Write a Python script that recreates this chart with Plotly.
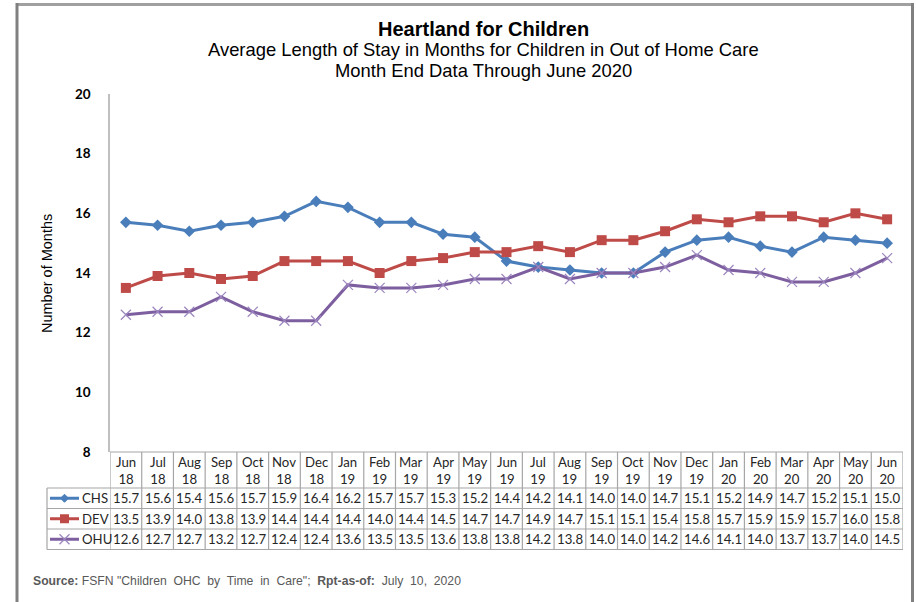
import plotly.graph_objects as go

# ---------------- data ----------------
months = ["Jun 18", "Jul 18", "Aug 18", "Sep 18", "Oct 18", "Nov 18", "Dec 18",
          "Jan 19", "Feb 19", "Mar 19", "Apr 19", "May 19", "Jun 19", "Jul 19",
          "Aug 19", "Sep 19", "Oct 19", "Nov 19", "Dec 19", "Jan 20", "Feb 20",
          "Mar 20", "Apr 20", "May 20", "Jun 20"]
chs = [15.7, 15.6, 15.4, 15.6, 15.7, 15.9, 16.4, 16.2, 15.7, 15.7, 15.3, 15.2, 14.4,
       14.2, 14.1, 14.0, 14.0, 14.7, 15.1, 15.2, 14.9, 14.7, 15.2, 15.1, 15.0]
dev = [13.5, 13.9, 14.0, 13.8, 13.9, 14.4, 14.4, 14.4, 14.0, 14.4, 14.5, 14.7, 14.7,
       14.9, 14.7, 15.1, 15.1, 15.4, 15.8, 15.7, 15.9, 15.9, 15.7, 16.0, 15.8]
ohu = [12.6, 12.7, 12.7, 13.2, 12.7, 12.4, 12.4, 13.6, 13.5, 13.5, 13.6, 13.8, 13.8,
       14.2, 13.8, 14.0, 14.0, 14.2, 14.6, 14.1, 14.0, 13.7, 13.7, 14.0, 14.5]
series_names = ["CHS", "DEV", "OHU"]
y_ticks = [8, 10, 12, 14, 16, 18, 20]

# ---------------- styling / layout ----------------
W_FIG, H_FIG = 916, 602
L, R, T, B = 110, 903, 94, 452
PW, PH = R - L, B - T


def fx(px):
    return (px - L) / PW


def fy(py):
    return (B - py) / PH


colors = {"CHS": "#4A7EBB", "DEV": "#BE4B48", "OHU": "#7D5FA0"}
table_font = dict(family="Lato, Carlito, Calibri, sans-serif", size=13.2, color="#262626")
grid_col = "#A6A6A6"

fig = go.Figure()
values = {"CHS": chs, "DEV": dev, "OHU": ohu}
marker_defs = {
    "CHS": dict(symbol="diamond", size=9, color=colors["CHS"]),
    "DEV": dict(symbol="square", size=10, color=colors["DEV"]),
    "OHU": dict(symbol="x-thin", size=10, color=colors["OHU"],
                line=dict(color="#9C86BF", width=1.2)),
}
for name in series_names:
    fig.add_trace(go.Scatter(
        x=list(range(len(months))), y=values[name], mode="lines+markers", name=name,
        line=dict(color=colors[name], width=3), marker=marker_defs[name],
        showlegend=False, cliponaxis=False, hoverinfo="skip"))

shapes = []
annotations = []

# table geometry (pixel rows)
row_edges = [B, 488, 508.5, 529, 549.5]
n = len(months)
for i in range(n + 1):
    shapes.append(dict(type="line", xref="x", yref="paper", x0=i - 0.5, x1=i - 0.5,
                       y0=fy(B), y1=fy(row_edges[-1]), line=dict(color=grid_col, width=1.2)))
shapes.append(dict(type="line", xref="x", yref="paper", x0=-0.5, x1=n - 0.5,
                   y0=fy(B), y1=fy(B), line=dict(color=grid_col, width=1.2)))
for ry in row_edges[1:]:
    shapes.append(dict(type="line", xref="paper", yref="paper", x0=fx(47), x1=1,
                       y0=fy(ry), y1=fy(ry), line=dict(color=grid_col, width=1.2)))
shapes.append(dict(type="line", xref="paper", yref="paper", x0=fx(47), x1=fx(47),
                   y0=fy(row_edges[1]), y1=fy(row_edges[-1]), line=dict(color=grid_col, width=1.2)))

for i, m in enumerate(months):
    mon, yr = m.split(" ")
    annotations.append(dict(xref="x", yref="paper", x=i, y=fy((row_edges[0] + row_edges[1]) / 2),
                            text=f"{mon}<br>{yr}", showarrow=False, font=table_font,
                            xanchor="center", yanchor="middle"))
for r, name in enumerate(series_names):
    yc = fy((row_edges[r + 1] + row_edges[r + 2]) / 2)
    for i, v in enumerate(values[name]):
        annotations.append(dict(xref="x", yref="paper", x=i, y=yc, text=f"{v:.1f}",
                                showarrow=False, font=table_font, xanchor="center", yanchor="middle"))
    shapes.append(dict(type="line", xref="paper", yref="paper", x0=fx(50), x1=fx(79),
                       y0=yc, y1=yc, line=dict(color=colors[name], width=3)))
    cy = (row_edges[r + 1] + row_edges[r + 2]) / 2
    cx = 64.5
    if name == "CHS":
        d = 4
        path = (f"M {fx(cx)} {fy(cy - d)} L {fx(cx + d)} {fy(cy)} L {fx(cx)} {fy(cy + d)} "
                f"L {fx(cx - d)} {fy(cy)} Z")
        shapes.append(dict(type="path", xref="paper", yref="paper", path=path,
                           fillcolor=colors[name], line=dict(color=colors[name], width=1)))
    elif name == "DEV":
        d = 4.5
        shapes.append(dict(type="rect", xref="paper", yref="paper", x0=fx(cx - d), x1=fx(cx + d),
                           y0=fy(cy + d), y1=fy(cy - d), fillcolor=colors[name],
                           line=dict(color=colors[name], width=0)))
    else:
        d = 5
        for sgn in (1, -1):
            shapes.append(dict(type="line", xref="paper", yref="paper", x0=fx(cx - d), x1=fx(cx + d),
                               y0=fy(cy - sgn * d), y1=fy(cy + sgn * d),
                               line=dict(color="#9C86BF", width=1.2)))
    annotations.append(dict(xref="paper", yref="paper", x=fx(80), y=yc, text=name, showarrow=False,
                            font=table_font, xanchor="left", yanchor="middle"))

# outer frame
shapes.append(dict(type="line", xref="paper", yref="paper", x0=fx(17), x1=fx(912.5),
                   y0=fy(4.5), y1=fy(4.5), line=dict(color="#A0A0A0", width=3)))
shapes.append(dict(type="line", xref="paper", yref="paper", x0=fx(17), x1=fx(17),
                   y0=fy(3), y1=fy(602), line=dict(color="#808080", width=3)))
shapes.append(dict(type="line", xref="paper", yref="paper", x0=fx(912.5), x1=fx(912.5),
                   y0=fy(3), y1=fy(602), line=dict(color="#808080", width=3)))

title_font = "Liberation Sans, Arial, sans-serif"
annotations.append(dict(xref="paper", yref="paper", x=fx(483), y=fy(29), text="<b>Heartland for Children</b>",
                        showarrow=False, font=dict(family=title_font, size=20, color="#000000"),
                        xanchor="center", yanchor="middle"))
annotations.append(dict(xref="paper", yref="paper", x=fx(483), y=fy(49),
                        text="Average Length of Stay in Months for Children in Out of Home Care",
                        showarrow=False, font=dict(family=title_font, size=18.4, color="#000000"),
                        xanchor="center", yanchor="middle"))
annotations.append(dict(xref="paper", yref="paper", x=fx(483), y=fy(70),
                        text="Month End Data Through June 2020",
                        showarrow=False, font=dict(family=title_font, size=18.4, color="#000000"),
                        xanchor="center", yanchor="middle"))
annotations.append(dict(xref="paper", yref="paper", x=fx(47), y=fy(273), text="Number of Months",
                        textangle=-90, showarrow=False,
                        font=dict(family=title_font, size=14.5, color="#000000"),
                        xanchor="center", yanchor="middle"))
annotations.append(dict(xref="paper", yref="paper", x=fx(31), y=fy(581),
                        text="<b>Source:</b> FSFN \"Children  OHC  by  Time  in  Care\";  <b>Rpt-as-of:</b>  July  10,  2020",
                        showarrow=False, font=dict(family=title_font, size=12.2, color="#595959"),
                        xanchor="left", yanchor="middle"))

fig.update_layout(
    width=W_FIG, height=H_FIG,
    margin=dict(l=L, r=W_FIG - R, t=T, b=H_FIG - B, pad=0),
    plot_bgcolor="white", paper_bgcolor="white",
    shapes=shapes, annotations=annotations, showlegend=False,
    xaxis=dict(range=[-0.5, n - 0.5], showticklabels=False, showgrid=False, zeroline=False,
               showline=False, ticks="", fixedrange=True),
    yaxis=dict(range=[8, 20], tickvals=y_ticks, showgrid=False, zeroline=False,
               showline=True, linecolor="#BFBFBF", linewidth=1.5, ticks="",
               ticklabelstandoff=15, fixedrange=True,
               tickfont=dict(family="Lato, Carlito, Calibri, sans-serif", size=13.5, color="#000000",
                             weight="bold")),
)

fig.write_html("out.html", config={"displayModeBar": False},
               post_script="document.body.style.margin='0';")
